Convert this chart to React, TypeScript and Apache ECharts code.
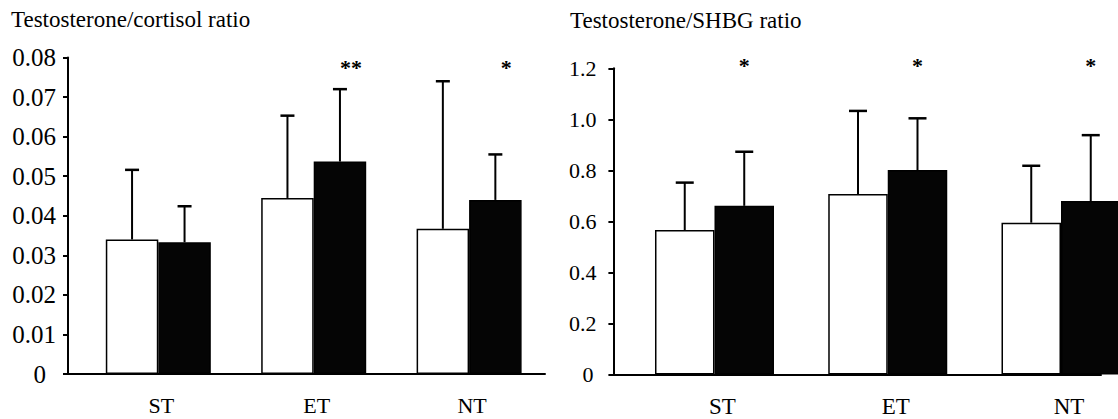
import React, { useEffect, useRef } from 'react';
import * as echarts from 'echarts';

const categories = ['ST', 'ET', 'NT'];

// Left panel: Testosterone/cortisol ratio (white = pre, black = post)
const tcPreMean = [0.034, 0.0445, 0.0367];
const tcPreSd = [0.0176, 0.0208, 0.0373];
const tcPostMean = [0.0333, 0.0537, 0.044];
const tcPostSd = [0.0091, 0.0183, 0.0115];
const tcStars = ['', '**', '*'];

// Right panel: Testosterone/SHBG ratio
const tsPreMean = [0.566, 0.707, 0.595];
const tsPreSd = [0.186, 0.326, 0.223];
const tsPostMean = [0.661, 0.801, 0.68];
const tsPostSd = [0.212, 0.203, 0.258];
const tsStars = ['*', '*', '*'];

const FONT = 'Liberation Serif';

function panelSeries(
  gi: number,
  pre: number[],
  preSd: number[],
  post: number[],
  postSd: number[],
  stars: string[],
  yMax: number,
  barW: number,
  capHalf: number,
  starDx: number,
  starDy: number
) {
  const bar = (data: number[], fill: string) => ({
    type: 'bar',
    xAxisIndex: gi,
    yAxisIndex: gi,
    data: data.map((v, i) => [i, v]),
    barWidth: barW,
    barGap: '0%',
    clip: false,
    silent: true,
    itemStyle: { color: fill, borderColor: '#000', borderWidth: 1.5 },
  });
  const err = (means: number[], sds: number[], side: number) => ({
    type: 'custom',
    xAxisIndex: gi,
    yAxisIndex: gi,
    clip: false,
    silent: true,
    data: means.map((m, i) => [i, m, m + sds[i]]),
    renderItem: (_p: any, api: any) => {
      const base = api.coord([api.value(0), api.value(1)]);
      const top = api.coord([api.value(0), api.value(2)]);
      const x = base[0] + (side * barW) / 2;
      return {
        type: 'group',
        children: [
          { type: 'line', shape: { x1: x, y1: base[1], x2: x, y2: top[1] }, style: { stroke: '#000', lineWidth: 2 } },
          { type: 'line', shape: { x1: x - capHalf, y1: top[1], x2: x + capHalf, y2: top[1] }, style: { stroke: '#000', lineWidth: 2.5 } },
        ],
      };
    },
  });
  const starSeries = {
    type: 'custom',
    xAxisIndex: gi,
    yAxisIndex: gi,
    clip: false,
    silent: true,
    data: stars.map((_s, i) => [i, yMax]),
    renderItem: (p: any, api: any) => {
      const c = api.coord([api.value(0), api.value(1)]);
      return {
        type: 'text',
        style: {
          x: c[0] + barW / 2 + starDx,
          y: c[1] + starDy,
          text: stars[p.dataIndex],
          fontSize: 22,
          fontWeight: 'bold',
          fontFamily: FONT,
          fill: '#000',
          align: 'center',
          verticalAlign: 'middle',
        },
      };
    },
  };
  return [bar(pre, '#ffffff'), bar(post, '#050505'), err(pre, preSd, -1), err(post, postSd, 1), starSeries];
}

function xAxisFor(gi: number, min: number, max: number, shift: number, fs: number) {
  return {
    gridIndex: gi,
    type: 'value',
    min,
    max,
    axisLine: { show: true, onZero: false, lineStyle: { color: '#000', width: 2 } },
    axisTick: { show: false },
    splitLine: { show: false },
    axisLabel: {
      customValues: [0, 1, 2],
      formatter: (v: number) => categories[Math.round(v)] ?? '',
      fontSize: fs,
      fontFamily: FONT,
      color: '#000',
      margin: 20,
      padding: [0, 0, 0, shift],
    },
  };
}

function yAxisFor(gi: number, max: number, interval: number, digits: number, fs: number, margin: number, zeroPad: number) {
  return {
    gridIndex: gi,
    type: 'value',
    min: 0,
    max,
    interval,
    axisLine: { show: true, onZero: false, lineStyle: { color: '#000', width: 2 } },
    axisTick: { show: true, inside: false, length: 5, lineStyle: { color: '#000', width: 2 } },
    splitLine: { show: false },
    axisLabel: {
      fontSize: fs,
      fontFamily: FONT,
      color: '#000',
      margin,
      formatter: (v: number) => (Math.abs(v) < 1e-9 ? '{z|0}' : v.toFixed(digits)),
      rich: { z: { fontSize: fs, fontFamily: FONT, color: '#000', padding: [0, zeroPad, 0, 0] } },
    },
  };
}

export default function App() {
  const ref = useRef<HTMLDivElement>(null);
  useEffect(() => {
    if (!ref.current) return;
    const chart = echarts.init(ref.current, undefined, { renderer: 'svg' });
    chart.setOption({
      animation: false,
      backgroundColor: '#ffffff',
      textStyle: { fontFamily: FONT },
      title: [
        {
          text: 'Testosterone/cortisol ratio',
          left: 11,
          top: 8,
          padding: 0,
          textStyle: { fontSize: 23, fontWeight: 'normal', fontFamily: FONT, color: '#000' },
        },
        {
          text: 'Testosterone/SHBG ratio',
          left: 570,
          top: 9,
          padding: 0,
          textStyle: { fontSize: 23, fontWeight: 'normal', fontFamily: FONT, color: '#000' },
        },
      ],
      grid: [
        { left: 68, top: 57.5, width: 477, height: 316.5 },
        { left: 613.4, top: 68.3, width: 487.6, height: 306.2 },
      ],
      xAxis: [xAxisFor(0, -0.5811, 2.4884, 6, 22), xAxisFor(1, -0.5835, 2.2309, 16, 23)],
      yAxis: [yAxisFor(0, 0.08, 0.01, 2, 25, 12, 10), yAxisFor(1, 1.2, 0.2, 1, 22, 17, 3)],
      series: [
        ...panelSeries(0, tcPreMean, tcPreSd, tcPostMean, tcPostSd, tcStars, 0.08, 52.5, 7, 11, 9.8),
        ...panelSeries(1, tsPreMean, tsPreSd, tsPostMean, tsPostSd, tsStars, 1.2, 59.5, 9, 0, -2.6),
      ],
    });
    return () => chart.dispose();
  }, []);
  return (
    <div
      ref={ref}
      style={{ position: 'absolute', left: 0, top: 0, width: 1118, height: 419, background: '#fff' }}
    />
  );
}
